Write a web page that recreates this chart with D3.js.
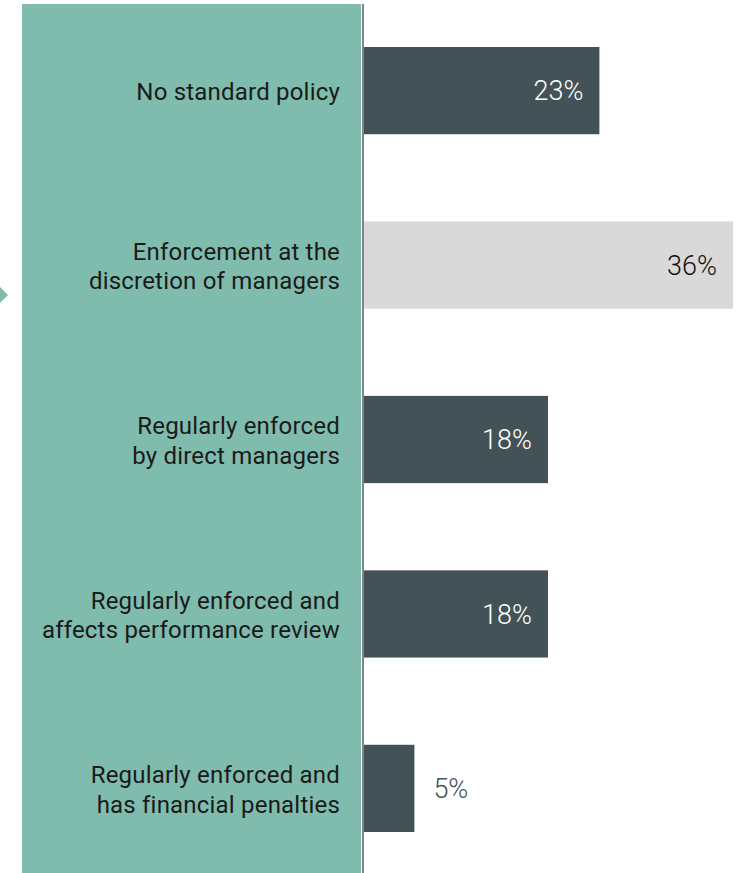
<!DOCTYPE html>
<html>
<head>
<meta charset="utf-8">
<script src="https://cdn.jsdelivr.net/npm/d3@7"></script>
<style>
  html, body { margin: 0; padding: 0; background: #fff; }
  svg { display: block; }
  text { font-family: Roboto, "Noto Sans", sans-serif; }
</style>
</head>
<body>
<svg id="chart" width="743" height="873"></svg>
<script>
// Survey responses: how the policy is enforced
const categories = [
  ["No standard policy"],
  ["Enforcement at the", "discretion of managers"],
  ["Regularly enforced", "by direct managers"],
  ["Regularly enforced and", "affects performance review"],
  ["Regularly enforced and", "has financial penalties"]
];
const values = [23, 36, 18, 18, 5];
const highlighted = [false, true, false, false, false];

const W = 743, H = 873;
const panelLeft = 22, axisX = 363;
const colors = {
  panel: "#80BCAD",
  bar: "#435257",
  barLight: "#D9D9D9",
  axis: "#5E686C",
  label: "#1A1A1A"
};

const svg = d3.select("#chart");
const keys = categories.map((c, i) => i);

const x = d3.scaleLinear().domain([0, 36]).range([axisX, 733]);
const y = d3.scaleBand().domain(keys).range([47, 832]).paddingInner(0.5).paddingOuter(0);

// green category panel
svg.append("rect")
  .attr("x", panelLeft).attr("y", 4)
  .attr("width", axisX - 2 - panelLeft).attr("height", H - 4)
  .attr("fill", colors.panel);

// small marker pointing at the panel
svg.append("path")
  .attr("d", `M-8,${295} L0,${287} L8,${295} L0,${303} Z`)
  .attr("fill", colors.panel);

// baseline
svg.append("line")
  .attr("x1", axisX).attr("x2", axisX)
  .attr("y1", 4).attr("y2", H)
  .attr("stroke", colors.axis).attr("stroke-width", 1.6);

// bars
svg.selectAll("rect.bar")
  .data(keys)
  .join("rect")
  .attr("class", "bar")
  .attr("x", axisX + 1)
  .attr("y", d => y(d))
  .attr("width", d => x(values[d]) - axisX - 1)
  .attr("height", y.bandwidth())
  .attr("fill", d => highlighted[d] ? colors.barLight : colors.bar);

// value labels
svg.selectAll("text.value")
  .data(keys)
  .join("text")
  .attr("class", "value")
  .attr("x", d => values[d] < 10 ? x(values[d]) + 19 : x(values[d]) - 16)
  .attr("y", d => y(d) + y.bandwidth() / 2)
  .attr("dy", "0.36em")
  .attr("text-anchor", d => values[d] < 10 ? "start" : "end")
  .attr("font-size", 27)
  .attr("font-weight", 300)
  .attr("fill", d => values[d] < 10 ? colors.bar : (highlighted[d] ? "#111" : "#fff"))
  .text(d => values[d] + "%");

// category labels
const lineH = 29.5;
const labels = svg.selectAll("text.cat")
  .data(keys)
  .join("text")
  .attr("class", "cat")
  .attr("text-anchor", "end")
  .attr("font-size", 24)
  .attr("letter-spacing", 0.2)
  .attr("fill", colors.label);
labels.each(function(d) {
  const lines = categories[d];
  const cy = y(d) + y.bandwidth() / 2 + 1;
  const t = d3.select(this);
  lines.forEach((ln, i) => {
    t.append("tspan")
      .attr("x", 340)
      .attr("y", cy + (i - (lines.length - 1) / 2) * lineH)
      .attr("dy", "0.36em")
      .text(ln);
  });
});
</script>
</body>
</html>
